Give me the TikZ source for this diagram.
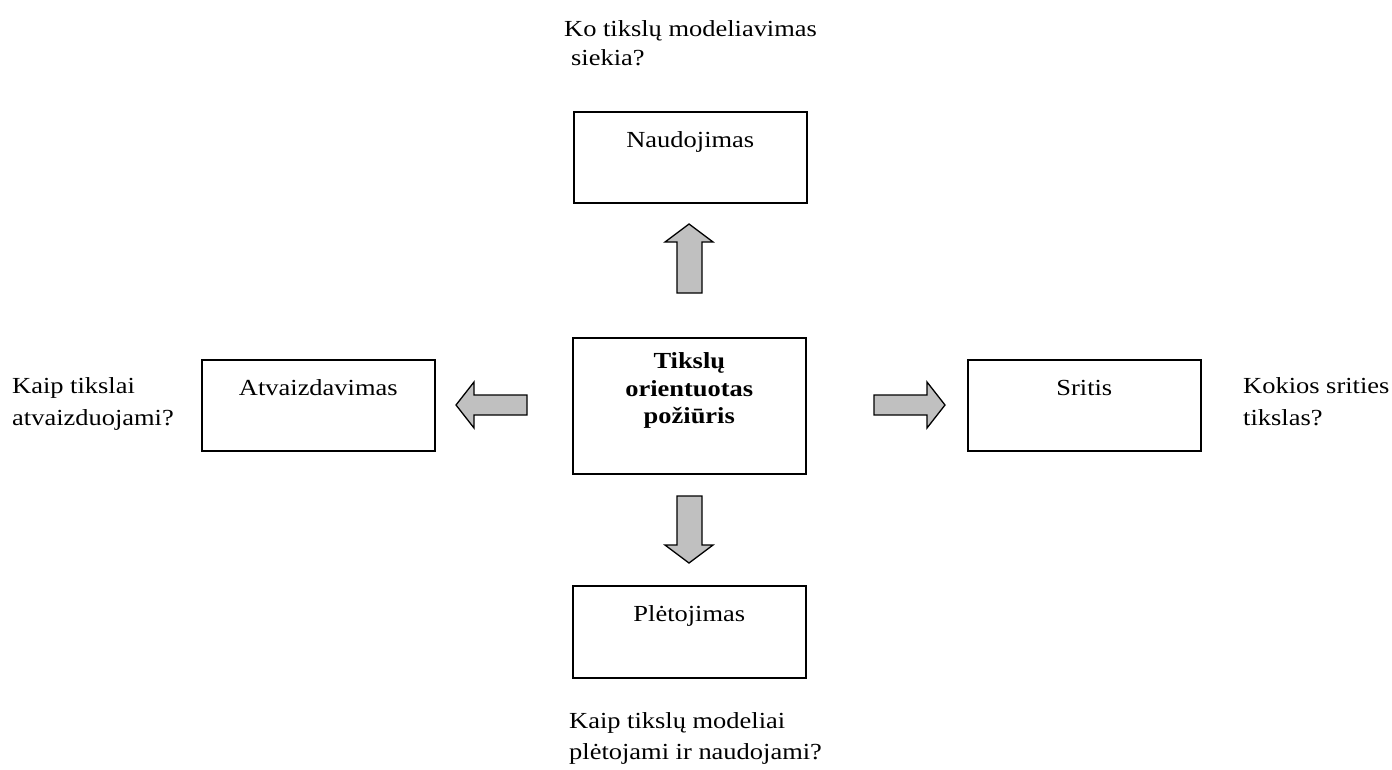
\documentclass[tikz,border=0pt]{standalone}
\usepackage{fontspec}
\setmainfont{Liberation Serif}[FakeStretch=1.15]
\definecolor{arrowgray}{RGB}{192,192,192}
\begin{document}
\begin{tikzpicture}[x=1pt,y=-1pt,
  frame/.style={draw, line width=1.6pt, minimum width=233pt, minimum height=91pt,
    inner sep=0pt, anchor=north west},
  txt/.style={font=\fontsize{23}{28}\selectfont, inner sep=0pt},
  lbl/.style={txt, anchor=base west},
  boxtext/.style={txt, anchor=base},
  boldtext/.style={boxtext, font=\fontsize{23}{28}\selectfont\bfseries},
  blockarrow/.style={draw, line width=1.3pt, fill=arrowgray, line join=miter}]
\useasboundingbox[fill=white] (0,0) rectangle (1392,769);

% boxes
\node[frame] (use) at (573,111) {};
\node[frame, minimum height=136pt] (core) at (572,337) {};
\node[frame] (repr) at (201,359) {};
\node[frame] (dom) at (967,359) {};
\node[frame, minimum height=92pt] (dev) at (572,585) {};

% box captions
\node[boxtext] (useT) at ([yshift=-36pt]use.north) {Naudojimas};
\node[boxtext] (reprT) at ([yshift=-36pt]repr.north) {Atvaizdavimas};
\node[boxtext] (domT) at ([yshift=-36pt]dom.north) {Sritis};
\node[boxtext] (devT) at ([yshift=-36pt]dev.north) {Plėtojimas};
\node[boldtext] (coreA) at ([yshift=-31pt]core.north) {Tikslų};
\node[boldtext] (coreB) at ([yshift=-59pt]core.north) {orientuotas};
\node[boldtext] (coreC) at ([yshift=-86pt]core.north) {požiūris};

% block arrows
\draw[blockarrow] (677,293) -- (677,242) -- (665,242) -- (689,224) -- (713,242)
  -- (702,242) -- (702,293) -- cycle;
\draw[blockarrow] (677,496) -- (702,496) -- (702,545) -- (713,545) -- (689,563)
  -- (665,545) -- (677,545) -- cycle;
\draw[blockarrow] (527,395) -- (474,395) -- (474,382) -- (456,405) -- (474,428)
  -- (474,415) -- (527,415) -- cycle;
\draw[blockarrow] (874,395) -- (927,395) -- (927,382) -- (945,405) -- (927,428)
  -- (927,415) -- (874,415) -- cycle;

% questions
\node[lbl] (qUseA) at (564,36) {Ko tikslų modeliavimas};
\node[lbl] (qUseB) at (571,65) {siekia?};
\node[lbl] (qReprA) at (12,393) {Kaip tikslai};
\node[lbl] (qReprB) at (12,425) {atvaizduojami?};
\node[lbl] (qDomA) at (1243,393) {Kokios srities};
\node[lbl] (qDomB) at (1243,425) {tikslas?};
\node[lbl] (qDevA) at (569,728) {Kaip tikslų modeliai};
\node[lbl] (qDevB) at (569,759) {plėtojami ir naudojami?};
\end{tikzpicture}
\end{document}
